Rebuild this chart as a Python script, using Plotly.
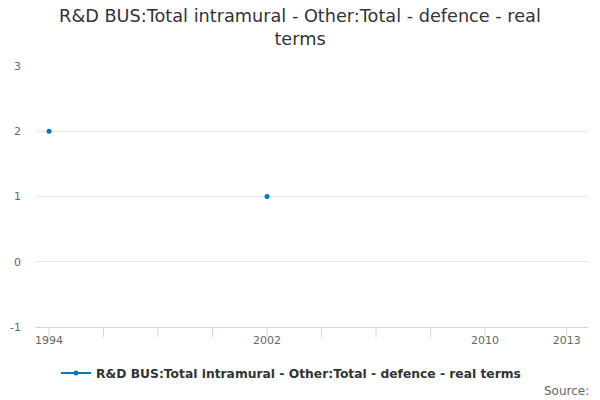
import plotly.graph_objects as go

# data
years = [1994, 1996, 1998, 2000, 2002, 2004, 2006, 2008, 2010, 2012, 2013]
values = [2, None, None, None, 1, None, None, None, None, None, None]
tick_years = [1994, 1996, 1998, 2000, 2002, 2004, 2006, 2008, 2010, 2013]
tick_labels = ["1994", "", "", "", "2002", "", "", "", "2010", "2013"]
y_ticks = [-1, 0, 1, 2, 3]
y_labels = ["-1", "0", "1", "2", "3"]

series_name = "R&D BUS:Total intramural - Other:Total - defence - real terms"

fig = go.Figure()
fig.add_trace(go.Scatter(
    x=years,
    y=values,
    mode="lines+markers",
    name=series_name,
    line=dict(color="#0077c0", width=2),
    marker=dict(size=5, color="#0077c0"),
    connectgaps=False,
))

# tick marks below the x axis, drawn as shapes so labels can sit close
for yr in tick_years:
    fig.add_shape(
        type="line", xref="x", yref="paper",
        x0=yr, x1=yr, y0=0, y1=-10 / 261,
        line=dict(color="#ccd6eb", width=1),
    )

fig.update_layout(
    width=600,
    height=400,
    margin=dict(l=36, r=12, t=66, b=73),
    plot_bgcolor="white",
    paper_bgcolor="white",
    font=dict(family="DejaVu Sans", color="#333333"),
    title=dict(
        text="R&D BUS:Total intramural - Other:Total - defence - real<br>terms",
        x=0.5,
        xanchor="center",
        y=0.944,
        yanchor="top",
        font=dict(size=17.7, color="#333333"),
    ),
    showlegend=True,
    legend=dict(
        orientation="h",
        x=0.462,
        xanchor="center",
        y=-0.176,
        yanchor="middle",
        font=dict(size=12.3, color="#333333", weight="bold"),
    ),
    xaxis=dict(
        range=[1993.52, 2013.78],
        tickvals=tick_years,
        ticktext=tick_labels,
        showgrid=False,
        zeroline=False,
        showline=True,
        linecolor="#ccd6eb",
        ticks="",
        ticklabelstandoff=3,
        automargin=False,
        tickfont=dict(size=11, color="#666666"),
    ),
    yaxis=dict(
        range=[-1, 3],
        tickvals=y_ticks,
        ticktext=y_labels,
        showgrid=True,
        gridcolor="#e6e6e6",
        zeroline=False,
        showline=False,
        ticks="",
        ticklabelstandoff=14,
        automargin=False,
        tickfont=dict(size=11, color="#666666"),
    ),
    annotations=[dict(
        text="Source:",
        xref="paper",
        yref="paper",
        x=1.005,
        y=-0.247,
        xanchor="right",
        yanchor="middle",
        showarrow=False,
        font=dict(size=12, color="#666666"),
    )],
)

fig.write_html(
    "out.html",
    config={"displayModeBar": False},
    post_script="document.body.style.margin='0';",
)
